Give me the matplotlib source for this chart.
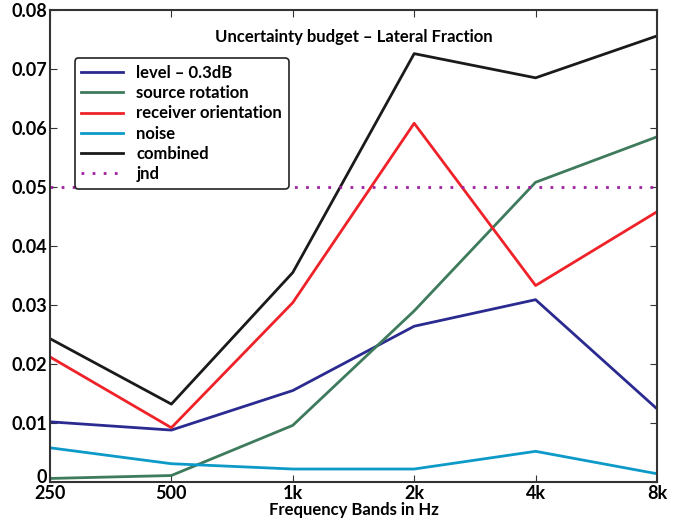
import matplotlib
matplotlib.use("Agg")
import matplotlib.pyplot as plt
import matplotlib.transforms as mtransforms

bands = ["250", "500", "1k", "2k", "4k", "8k"]
level = [0.0102, 0.0088, 0.0155, 0.0264, 0.0309, 0.0124]
source = [0.0006, 0.0011, 0.0096, 0.0290, 0.0508, 0.0585]
receiver = [0.0212, 0.0092, 0.0304, 0.0608, 0.0333, 0.0458]
noise = [0.0058, 0.0031, 0.0022, 0.0022, 0.0052, 0.0014]
combined = [0.0243, 0.0132, 0.0355, 0.0726, 0.0685, 0.0756]
jnd = 0.05

plt.rcParams['font.family'] = ['Lato', 'DejaVu Sans']
plt.rcParams['font.weight'] = 'bold'

fig = plt.figure(figsize=(6.78, 5.25), dpi=100)
ax = fig.add_axes([0.0737, 0.0819, 0.8953, 0.8991])
x = list(range(len(bands)))
ax.plot(x, level, color='#2a2a90', lw=2, label='level \u2013 0.3dB')
ax.plot(x, source, color='#3e7a5c', lw=2, label='source rotation')
ax.plot(x, receiver, color='#ee2228', lw=2, label='receiver orientation')
ax.plot(x, noise, color='#0d9ac8', lw=2, label='noise')
ax.plot(x, combined, color='#1a1a1a', lw=2, label='combined')
ax.axhline(jnd, color='#a0209f', lw=2, ls=(0, (1, 3)), label='jnd')

ax.set_xlim(0, len(bands) - 1)
ax.set_ylim(0, 0.08)
ax.set_xticks(x)
ax.set_xticklabels(bands)
ax.set_yticks([0, 0.01, 0.02, 0.03, 0.04, 0.05, 0.06, 0.07, 0.08])
ax.set_yticklabels(['0', '0.01', '0.02', '0.03', '0.04', '0.05', '0.06', '0.07', '0.08'])
ax.tick_params(direction='in', top=True, right=True, labelsize=13, length=5, pad=2, color='#333333')
for s in ax.spines.values():
    s.set_linewidth(1.5)
    s.set_color('#333333')
# nudge the "0" y label slightly up so it does not collide with "250"
fig.canvas.draw()
lbl0 = ax.get_yticklabels()[0]
lbl0.set_transform(lbl0.get_transform() + mtransforms.ScaledTranslation(0, 4 / 72, fig.dpi_scale_trans))
ax.set_xlabel('Frequency Bands in Hz', fontsize=12, fontweight='bold', labelpad=0)
ax.text(0.5, 0.96, 'Uncertainty budget \u2013 Lateral Fraction', transform=ax.transAxes,
        ha='center', va='top', fontsize=12, fontweight='bold')
leg = ax.legend(loc='upper left', bbox_to_anchor=(0.027, 0.915), fontsize=12, frameon=True,
                fancybox=True, handlelength=2.5, borderpad=0.4, labelspacing=0.25)
leg.get_frame().set_edgecolor('#222222')
leg.get_frame().set_linewidth(1.2)
leg.get_frame().set_alpha(1)
fig.savefig('out.png', dpi=100)
